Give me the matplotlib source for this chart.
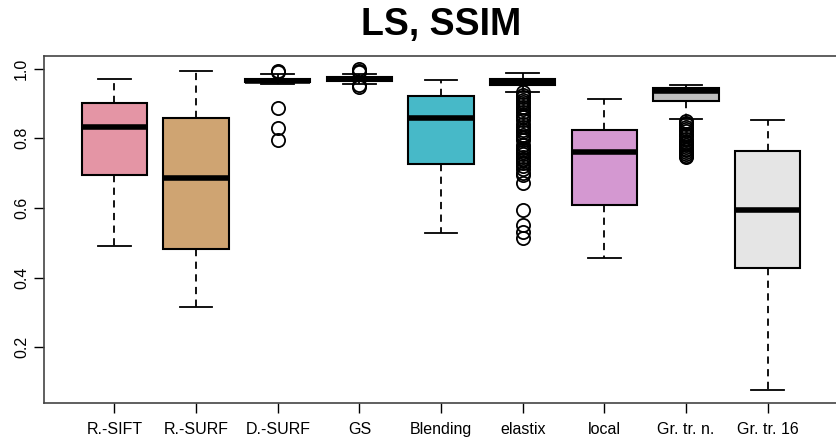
import matplotlib
matplotlib.use('Agg')
import matplotlib.pyplot as plt

plt.rcParams['font.family'] = ['Liberation Sans', 'DejaVu Sans']

labels = ['R.-SIFT', 'R.-SURF', 'D.-SURF', 'GS', 'Blending', 'elastix', 'local', 'Gr. tr. n.', 'Gr. tr. 16']
colors = ['#E495A5', '#CFA472', '#86B875', '#39BEB1', '#47B9C8', '#39BEB1', '#D498D1', '#BEBEBE', '#E5E5E5']

# five-number summaries
lower_whisker = [0.492, 0.315, 0.956, 0.955, 0.529, 0.934, 0.456, 0.854, 0.077]
q1 = [0.694, 0.483, 0.960, 0.965, 0.726, 0.954, 0.609, 0.907, 0.427]
median = [0.832, 0.685, 0.964, 0.970, 0.859, 0.962, 0.761, 0.935, 0.594]
q3 = [0.902, 0.857, 0.970, 0.975, 0.920, 0.970, 0.823, 0.945, 0.763]
upper_whisker = [0.969, 0.992, 0.985, 0.985, 0.968, 0.987, 0.914, 0.952, 0.851]

outliers = [
    [],
    [],
    [0.994, 0.990, 0.888, 0.830, 0.796],
    [0.998, 0.993, 0.990, 0.952, 0.946],
    [],
    [0.932, 0.925, 0.918, 0.910, 0.905, 0.899, 0.890, 0.885, 0.875, 0.866, 0.860,
     0.851, 0.840, 0.832, 0.825, 0.818, 0.810, 0.804, 0.800, 0.794, 0.780, 0.771,
     0.765, 0.761, 0.755, 0.747, 0.740, 0.737, 0.730, 0.720, 0.713, 0.700, 0.694,
     0.672, 0.594, 0.551, 0.532, 0.513],
    [],
    [0.850, 0.845, 0.840, 0.833, 0.826, 0.820, 0.812, 0.805, 0.798, 0.790, 0.785,
     0.780, 0.775, 0.770, 0.765, 0.760, 0.755, 0.750, 0.747],
    [],
]

stats = []
for i in range(len(labels)):
    stats.append({
        'label': labels[i],
        'whislo': lower_whisker[i],
        'q1': q1[i],
        'med': median[i],
        'q3': q3[i],
        'whishi': upper_whisker[i],
        'fliers': outliers[i],
    })

fig = plt.figure(figsize=(8.36, 4.43), dpi=100)
ax = fig.add_axes([44.2 / 836, 1 - 403 / 443, (838 - 44.2) / 836, (403 - 56) / 443])

bp = ax.bxp(stats, positions=range(1, 10), widths=0.8, patch_artist=True,
            boxprops=dict(linewidth=1.5, edgecolor='black'),
            medianprops=dict(color='black', linewidth=4, solid_capstyle='butt'),
            whiskerprops=dict(color='black', linewidth=1.3, linestyle=(0, (4, 3))),
            capprops=dict(color='black', linewidth=1.3),
            capwidths=0.4,
            flierprops=dict(marker='o', markerfacecolor='none', markeredgecolor='black',
                            markersize=9.5, markeredgewidth=1.3))
for patch, c in zip(bp['boxes'], colors):
    patch.set_facecolor(c)

ax.set_xlim(0.14, 9.86)
ax.set_ylim(0.040, 1.036)
ax.set_yticks([0.2, 0.4, 0.6, 0.8, 1.0])
ax.set_yticklabels(['0.2', '0.4', '0.6', '0.8', '1.0'], rotation=90, va='center')
ax.set_xticks(range(1, 10))
ax.set_xticklabels(labels)
ax.tick_params(axis='both', direction='out', length=7, width=1, labelsize=11.5)
ax.tick_params(axis='x', pad=7)
ax.tick_params(axis='y', pad=4)
for s in ['left', 'bottom', 'top']:
    ax.spines[s].set_color('#444444')
    ax.spines[s].set_linewidth(1.2)
ax.spines['right'].set_visible(False)

fig.suptitle('LS, SSIM', x=(44.2 + 838) / 2 / 836, y=1 - 7 / 443, va='top',
             fontsize=27, fontweight='bold')

fig.savefig('out.png', dpi=100)
